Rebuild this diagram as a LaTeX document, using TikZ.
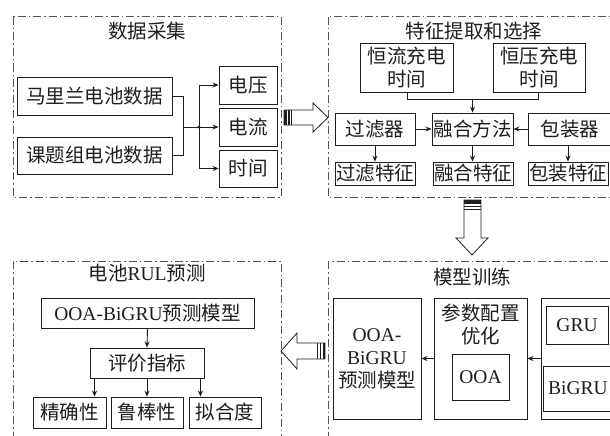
\documentclass[tikz,border=0pt]{standalone}
\usepackage{fontspec}
\setmainfont{Noto Sans CJK SC}
\newfontfamily\lat{Liberation Serif}
\usetikzlibrary{arrows.meta}
\definecolor{framegray}{HTML}{555555}
\definecolor{ink}{HTML}{1E1E1E}
\tikzset{
  frame/.style={draw=framegray, line width=1pt, dash pattern=on 8pt off 3pt on 1.5pt off 3pt},
  box/.style={draw=ink, line width=0.9pt, inner sep=0pt, align=center, text=ink},
  ttl/.style={inner sep=0pt, text=ink},
  conn/.style={draw=ink, line width=0.9pt},
  arr/.style={conn, -{Stealth[length=6pt,width=5pt]}},
  bigarrow/.style={draw=ink, line width=0.8pt, fill=white},
  stripe/.style={fill=ink, draw=none}
}
\begin{document}
\begin{tikzpicture}[x=1pt,y=-1pt, font=\fontsize{19.5}{23}\selectfont]
\useasboundingbox (0,0) rectangle (610,436);
\clip (0,0) rectangle (610,436);
\fill[white] (0,0) rectangle (610,436);

% ---------- frame 1: data collection ----------
\draw[frame] (13,17) rectangle (281,197);
\node[ttl] (t1) at (147,31) {数据采集};
\node[box, minimum width=155pt, minimum height=38pt] (A1) at (94.5,96) {马里兰电池数据};
\node[box, minimum width=155pt, minimum height=37pt] (A2) at (94.5,155.5) {课题组电池数据};
\node[box, minimum width=58pt, minimum height=38pt] (V) at (248,85) {电压};
\node[box, minimum width=58pt, minimum height=38pt] (I) at (248,127) {电流};
\node[box, minimum width=58pt, minimum height=37pt] (T) at (248,168.5) {时间};
\coordinate (j1) at (183,127);
\coordinate (j2) at (199,127);
\draw[conn] (A1.east) -| (j1);
\draw[conn] (A2.east) -| (j1);
\draw[conn] (j1) -- (j2);
\draw[arr] (j2) |- (V.west);
\draw[arr] (j2) -- (I.west);
\draw[arr] (j2) |- (T.west);
\fill[ink] (j2) circle (1.6pt);

% ---------- big arrow 1 (right) ----------
\draw[bigarrow] (284,110) -- (313,110) -- (313,103) -- (328,117.5) -- (313,132) -- (313,125) -- (284,125) -- cycle;
\fill[stripe] (284,110) rectangle (286.5,125);
\fill[stripe] (288,110) rectangle (289.5,125);
\fill[stripe] (291,110) rectangle (292,125);

% ---------- frame 2: feature extraction ----------
\draw[frame] (328,17) rectangle (620,197);
\node[ttl] (t2) at (474,31) {特征提取和选择};
\node[box, minimum width=93pt, minimum height=49pt] (B1) at (406.5,67.5) {恒流充电\\时间};
\node[box, minimum width=92pt, minimum height=49pt] (B2) at (539,67.5) {恒压充电\\时间};
\node[box, minimum width=80pt, minimum height=32pt] (C1) at (375,129) {过滤器};
\node[box, minimum width=81pt, minimum height=32pt] (C2) at (472.5,129) {融合方法};
\node[box, minimum width=84pt, minimum height=32pt] (C3) at (570,129) {包装器};
\node[box, minimum width=80pt, minimum height=23pt] (D1) at (375,173.5) {过滤特征};
\node[box, minimum width=80pt, minimum height=23pt] (D2) at (473,173.5) {融合特征};
\node[box, minimum width=80pt, minimum height=23pt] (D3) at (568,173.5) {包装特征};
\coordinate (k1) at (407,99.5);
\coordinate (k2) at (538,99.5);
\coordinate (k3) at (472.5,99.5);
\draw[conn] (B1.south -| k1) -- (k1) -- (k2) -- (B2.south -| k2);
\draw[arr] (k3) -- (C2.north);
\draw[arr] (C1.east) -- (C2.west);
\draw[arr] (C3.west) -- (C2.east);
\draw[arr] (C1.south) -- (D1.north -| C1.south);
\draw[arr] (C2.south) -- (D2.north -| C2.south);
\draw[arr] (C3.south -| D3.north) -- (D3.north);

% ---------- big arrow 2 (down) ----------
\draw[bigarrow] (464,200) -- (481,200) -- (481,238) -- (488,238) -- (472,255) -- (456,238) -- (464,238) -- cycle;
\fill[stripe] (464,200) rectangle (481,203.5);
\fill[stripe] (464,205.5) rectangle (481,206.8);
\fill[stripe] (464,208.5) rectangle (481,209.3);

% ---------- frame 3: RUL prediction ----------
\draw[frame] (13,261) rectangle (281,450);
\node[ttl] (t3) at (147,273) {电池{\lat RUL}预测};
\node[box, minimum width=213pt, minimum height=30pt] (E1) at (147.5,313) {{\lat OOA-BiGRU}预测模型};
\node[box, minimum width=114pt, minimum height=30pt] (E2) at (147,363) {评价指标};
\node[box, minimum width=73pt, minimum height=31pt] (G1) at (69.5,412.5) {精确性};
\node[box, minimum width=72pt, minimum height=31pt] (G2) at (147,412.5) {鲁棒性};
\node[box, minimum width=72pt, minimum height=31pt] (G3) at (225,412.5) {拟合度};
\draw[arr] (E1.south) -- (E2.north);
\draw[arr] ([xshift=5pt]E2.south west) -- ([xshift=5pt]E2.south west |- G1.north);
\draw[arr] (E2.south) -- (G2.north);
\draw[arr] ([xshift=-4pt]E2.south east) -- ([xshift=-4pt]E2.south east |- G3.north);

% ---------- big arrow 3 (left) ----------
\draw[bigarrow] (325,343) -- (297,343) -- (297,333) -- (281,351) -- (297,369) -- (297,359) -- (325,359) -- cycle;
\fill[stripe] (322.5,343) rectangle (325,359);
\fill[stripe] (319.5,343) rectangle (321,359);
\fill[stripe] (317,343) rectangle (318,359);

% ---------- frame 4: model training ----------
\draw[frame] (328,261) rectangle (620,450);
\node[ttl] (t4) at (472,277) {模型训练};
\node[box, minimum width=88pt, minimum height=121pt] (H1) at (377,358.5) {{\lat OOA-}\\{\lat BiGRU}\\预测模型};
\node[box, minimum width=93pt, minimum height=121pt] (H2) at (480.5,358.5) {};
\node[ttl, anchor=north, align=center] (H2t) at (480.5,304) {参数配置\\优化};
\node[box, minimum width=57pt, minimum height=46pt] (O) at (480.5,377) {\lat OOA};
\node[box, minimum width=79pt, minimum height=121pt] (H3) at (580.5,358.5) {};
\node[box, minimum width=62pt, minimum height=38pt] (G) at (577,325) {\lat GRU};
\node[box, minimum width=70pt, minimum height=45pt] (BG) at (578,388.5) {\lat BiGRU};
\draw[arr] (H2.west) -- (H1.east);
\draw[arr] (H3.west) -- (H2.east);
\end{tikzpicture}
\end{document}
